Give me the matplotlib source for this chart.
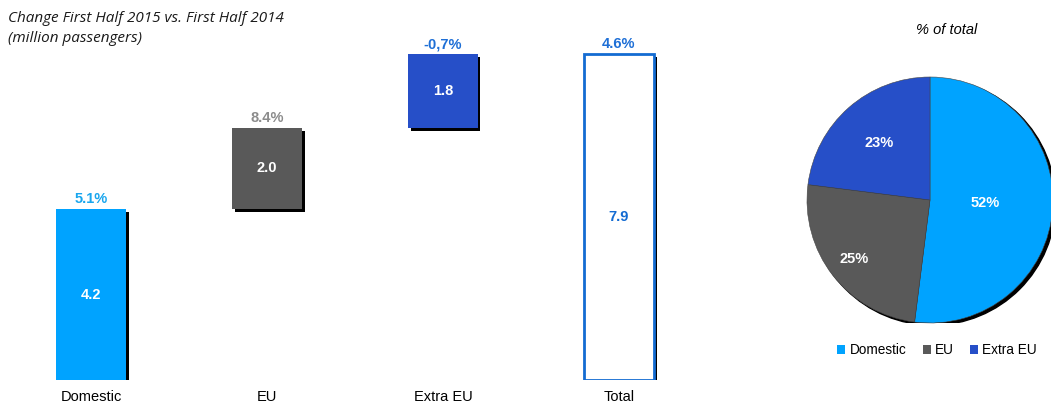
import matplotlib
matplotlib.use("Agg")
import matplotlib.pyplot as plt
from matplotlib.patches import Circle, Patch
import numpy as np

# data
categories = ["Domestic", "EU", "Extra EU", "Total"]
values = [4.2, 2.0, 1.8, 7.9]
changes = ["5.1%", "8.4%", "-0,7%", "4.6%"]
pie_labels = ["Domestic", "EU", "Extra EU"]
pie_shares = [52, 25, 23]

# colors
C_DOM = "#00A3FF"
C_EU = "#595959"
C_EXT = "#264FC8"
C_TOT = "#136BD2"
bar_colors = [C_DOM, C_EU, C_EXT, "white"]
change_colors = ["#19A6EE", "#8C8C8C", "#1E6FD6", "#1E6FD6"]
value_colors = ["white", "white", "white", C_TOT]

plt.rcParams["font.family"] = ["Liberation Sans", "DejaVu Sans"]

W, H = 1051, 405
fig = plt.figure(figsize=(W / 100, H / 100), dpi=100)

# ── waterfall ──
px_unit_x = 176.0
px_unit_y = 40.7
ax = fig.add_axes([0, 25 / H, 700 / W, 330 / H])
x0 = -91 / px_unit_x
ax.set_xlim(x0, x0 + 700 / px_unit_x)
ax.set_ylim(0, 330 / px_unit_y)
ax.axis("off")

x = np.arange(len(categories))
bottoms = np.concatenate([[0], np.cumsum(values[:2])])
bottoms = np.append(bottoms, 0)
tops = bottoms + np.array(values)
tops[3] = max(tops[2], tops[3])
heights = tops - bottoms
width = 70 / px_unit_x

# shadows
dx, dy = 2.5 / px_unit_x, 3 / px_unit_y
ax.bar(x + dx, heights, width, bottom=bottoms - dy, color="black", zorder=1)
ax.bar(x, heights, width, bottom=bottoms, color=bar_colors, zorder=2)
ax.bar(x[3], heights[3], width, bottom=bottoms[3], facecolor="white",
       edgecolor=C_TOT, linewidth=2, zorder=3)

for i in range(len(categories)):
    ax.text(x[i], bottoms[i] + heights[i] / 2, f"{values[i]:.1f}",
            ha="center", va="center", fontsize=10.5, fontweight="bold",
            color=value_colors[i], zorder=4)
    ax.text(x[i], tops[i] + 3 / px_unit_y, changes[i], ha="center",
            va="bottom", fontsize=10.5, fontweight="bold",
            color=change_colors[i], clip_on=False)
    ax.text(x[i], -17 / px_unit_y, categories[i], ha="center", va="center",
            fontsize=10.5, color="black", clip_on=False)

fig.text(8 / W, 1 - 18 / H, "Change First Half 2015 vs. First Half 2014",
         fontsize=11, style="italic", family="Open Sans", color="#1a1a1a",
         va="center")
fig.text(8 / W, 1 - 38 / H, "(million passengers)",
         fontsize=11, style="italic", family="Open Sans", color="#1a1a1a",
         va="center")

# ── pie ──
R = 123
pax = fig.add_axes([(930 - R) / W, (H - 200 - R) / H, 2 * R / W, 2 * R / H])
pax.add_patch(Circle((0.022, -0.018), 1.0, color="black", zorder=0))
wedges, _ = pax.pie(pie_shares, colors=[C_DOM, C_EU, C_EXT], startangle=90,
                    counterclock=False, radius=1.0,
                    wedgeprops=dict(linewidth=0.4, edgecolor="#444444"))
for w in wedges:
    w.set_zorder(1)
label_r = [0.45, 0.78, 0.62]
angle = 90.0
for share, r in zip(pie_shares, label_r):
    mid = np.deg2rad(angle - share * 3.6 / 2)
    angle -= share * 3.6
    pax.text(r * np.cos(mid), r * np.sin(mid), f"{share}%", ha="center",
             va="center", fontsize=10.5, fontweight="bold", color="white",
             zorder=3)
pax.set_xlim(-1, 1)
pax.set_ylim(-1, 1)
pax.set_aspect("equal")
pax.axis("off")

fig.text(947 / W, 1 - 30 / H, "% of total", ha="center", va="center",
         fontsize=10.5, style="italic")

handles = [Patch(facecolor=c, edgecolor="none") for c in [C_DOM, C_EU, C_EXT]]
fig.legend(handles, pie_labels, loc="center", bbox_to_anchor=(937 / W, 1 - 350 / H),
           ncol=3, frameon=False, fontsize=9.8, handlelength=0.6,
           handleheight=0.6, handletextpad=0.3, columnspacing=1.2)

fig.savefig("out.png", dpi=100)
